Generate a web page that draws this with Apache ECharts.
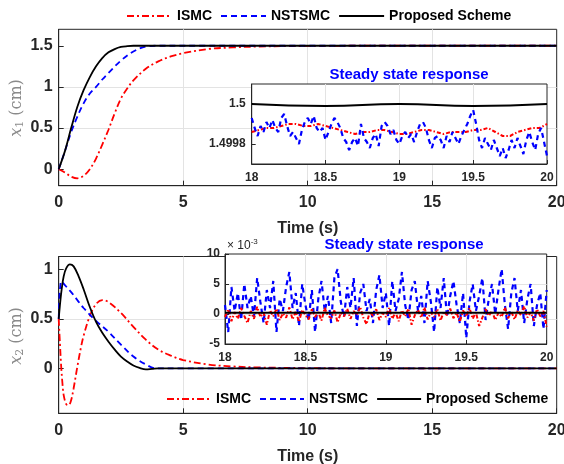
<!DOCTYPE html>
<html><head><meta charset="utf-8">
<script src="https://cdn.jsdelivr.net/npm/echarts@6/dist/echarts.min.js"></script>
<style>html,body{margin:0;padding:0;background:#fff}#c{width:564px;height:464px}</style>
</head><body><div id="c"></div><script>
// ---------- data: top plot x1 ----------
const tRed1 = [0,0.25,0.5,0.75,1,1.25,1.5,1.75,2,2.25,2.5,2.75,3,3.5,4,4.5,5,6,7,8,9,10,12,15,20];
const red1 = [0,-0.04,-0.09,-0.11,-0.08,0.0,0.13,0.3,0.48,0.68,0.86,0.98,1.08,1.22,1.31,1.37,1.41,1.46,1.48,1.49,1.495,1.498,1.5,1.5,1.5];
const tBlue1 = [0,0.25,0.5,0.75,1,1.25,1.5,1.75,2,2.5,3,3.5,4,5,20];
const blue1 = [0,0.22,0.45,0.64,0.8,0.92,1.0,1.09,1.17,1.32,1.43,1.49,1.5,1.5,1.5];
const tBlack1 = [0,0.25,0.5,0.75,1,1.25,1.5,1.75,2,2.25,2.5,2.75,3,3.5,20];
const black1 = [0,0.22,0.5,0.76,0.96,1.12,1.25,1.35,1.42,1.46,1.485,1.495,1.5,1.5,1.5];

// ---------- data: bottom plot x2 ----------
const tRed2 = [0,0.05,0.1,0.15,0.2,0.3,0.4,0.5,0.6,0.75,0.9,1,1.25,1.5,1.75,2,2.5,3,3.5,4,4.5,5,6,7,8,10,12,20];
const red2 = [0.5,0.25,0.02,-0.15,-0.27,-0.36,-0.37,-0.32,-0.2,0.02,0.22,0.33,0.53,0.65,0.69,0.67,0.56,0.42,0.29,0.19,0.13,0.085,0.04,0.02,0.01,0.003,0.001,0];
const tBlue2 = [0,0.03,0.07,0.1,0.25,0.5,0.75,1,1.5,2,2.5,3,3.5,3.9,4.2,20];
const blue2 = [0.5,0.72,0.85,0.88,0.84,0.77,0.69,0.61,0.48,0.37,0.24,0.12,0.04,0.0,0,0];
const tBlack2 = [0,0.1,0.2,0.3,0.45,0.6,0.8,1,1.25,1.5,1.75,2,2.25,2.5,2.75,3,3.25,3.5,3.75,4,20];
const black2 = [0.5,0.76,0.93,1.01,1.05,1.03,0.93,0.8,0.62,0.47,0.36,0.27,0.19,0.12,0.07,0.03,0.005,-0.01,-0.005,0,0];

// ---------- data: insets (steady state, t = 18..20) ----------
const insetTime = [18,18.02,18.04,18.06,18.08,18.1,18.12,18.14,18.16,18.18,
 18.2,18.22,18.24,18.26,18.28,18.3,18.32,18.34,18.36,18.38,
 18.4,18.42,18.44,18.46,18.48,18.5,18.52,18.54,18.56,18.58,
 18.6,18.62,18.64,18.66,18.68,18.7,18.72,18.74,18.76,18.78,
 18.8,18.82,18.84,18.86,18.88,18.9,18.92,18.94,18.96,18.98,
 19,19.02,19.04,19.06,19.08,19.1,19.12,19.14,19.16,19.18,
 19.2,19.22,19.24,19.26,19.28,19.3,19.32,19.34,19.36,19.38,
 19.4,19.42,19.44,19.46,19.48,19.5,19.52,19.54,19.56,19.58,
 19.6,19.62,19.64,19.66,19.68,19.7,19.72,19.74,19.76,19.78,
 19.8,19.82,19.84,19.86,19.88,19.9,19.92,19.94,19.96,19.98,20];
const blueTopInset = [1.49993,1.49988,1.49984,1.49989,1.49986,1.49991,1.49988,1.49992,1.49988,1.49986,
 1.49993,1.49995,1.49989,1.49984,1.49986,1.49983,1.49980,1.49987,1.49991,1.49993,
 1.49990,1.49994,1.49988,1.49986,1.49988,1.49982,1.49986,1.49990,1.49993,1.49991,
 1.49988,1.49983,1.49981,1.49977,1.49981,1.49983,1.49979,1.49990,1.49983,1.49981,
 1.49978,1.49983,1.49985,1.49979,1.49989,1.49991,1.49989,1.49985,1.49987,1.49982,
 1.49980,1.49984,1.49986,1.49983,1.49985,1.49981,1.49986,1.49990,1.49991,1.49988,
 1.49982,1.49978,1.49983,1.49984,1.49982,1.49978,1.49984,1.49981,1.49986,1.49983,
 1.49980,1.49984,1.49987,1.49990,1.49994,1.49997,1.49990,1.49982,1.49978,1.49983,
 1.49980,1.49977,1.49982,1.49978,1.49974,1.49978,1.49973,1.49977,1.49982,1.49978,
 1.49983,1.49979,1.49975,1.49982,1.49986,1.49981,1.49977,1.49985,1.49988,1.49981,1.49974];
const redTopTime = [18,18.05,18.1,18.15,18.2,18.25,18.3,18.35,18.4,18.45,
 18.5,18.55,18.6,18.65,18.7,18.75,18.8,18.85,18.9,18.95,
 19,19.05,19.1,19.15,19.2,19.25,19.3,19.35,19.4,19.45,
 19.5,19.55,19.6,19.65,19.7,19.75,19.8,19.85,19.9,19.95,20];
const redTopInset = [1.49986,1.49987,1.49988,1.49988,1.49989,1.49990,1.49990,1.49989,1.49989,1.49990,
 1.49989,1.49988,1.49987,1.49986,1.49985,1.49986,1.49986,1.49987,1.49987,1.49986,
 1.49985,1.49985,1.49986,1.49987,1.49987,1.49986,1.49985,1.49986,1.49986,1.49986,
 1.49987,1.49987,1.49988,1.49986,1.49984,1.49984,1.49986,1.49987,1.49988,1.49988,1.49990];
const blackTopTime = [18,18.5,19,19.5,20];
const blackTopInset = [1.5,1.49999,1.5,1.49999,1.5];

const blueBotInset = [1.5,-3.0,4.5,0.5,3.5,-1.0,5.0,1.0,3.0,-0.5,
 6.0,2.0,-1.5,4.0,1.0,5.5,-3.0,2.5,0.5,4.5,
 7.0,1.0,3.5,-2.0,5.0,1.5,-1.0,4.0,-3.0,2.5,
 5.5,0.5,3.0,-1.5,6.0,7.5,2.0,-0.5,4.5,1.0,
 6.0,-2.0,3.5,5.0,0.5,2.5,-1.5,4.0,6.5,1.0,
 3.5,-2.0,5.5,0.5,2.5,7.0,1.5,-1.0,4.0,5.5,
 0.5,3.0,-1.5,5.5,2.0,-3.0,4.5,1.0,6.0,-0.5,
 3.0,5.5,1.5,-1.5,3.5,-4.0,2.0,5.0,0.5,3.0,
 6.0,-1.0,2.5,5.0,0.0,4.0,7.5,1.5,-2.5,3.5,
 6.0,0.5,4.0,-1.5,2.5,5.0,-2.0,1.5,3.5,-2.5,4.0];
const redBotInset = [-0.5,0.8,-1.2,0.3,-0.8,1.0,-0.3,-1.5,0.5,-0.8,
 1.2,-0.5,0.2,-1.8,0.6,-0.4,0.9,-1.0,0.1,-0.6,
 1.1,-0.9,0.4,-1.3,0.7,-0.2,-0.9,0.8,-0.5,0.3,
 -1.1,1.0,-0.3,-0.7,0.6,-1.4,0.2,-0.4,0.9,-0.8,
 0.5,-0.2,1.2,-0.6,-1.7,0.4,-0.3,0.8,-1.0,0.2,
 -0.5,1.0,-0.8,0.3,-1.2,0.6,-0.4,0.9,-1.8,-0.2,
 0.7,-0.6,1.1,-0.9,0.3,-0.5,0.8,-1.1,0.4,-0.2,
 0.9,-0.7,0.2,-1.3,0.6,-0.4,1.0,-0.8,0.3,-2.0,
 -0.6,0.8,-0.3,0.5,-1.0,0.2,-0.5,1.1,-0.7,0.4,
 -0.9,0.6,-0.2,1.3,-0.6,0.3,-1.1,0.8,-0.4,0.5,-2.1];
const blackBotTime = [18,20];
const blackBotInset = [0.2,0.2];

// ---------- tick / label texts ----------
const names = ['ISMC','NSTSMC','Proposed Scheme'];
const insetTitle = 'Steady state response';
const xTitle = 'Time (s)';
const yTitleTop = '{i|x}{s|1}{n| (cm)}';
const yTitleBot = '{i|x}{s|2}{n| (cm)}';
const topInsetTicks = [1.4998, 1.5];
const topMainTicks = [0, 0.5, 1, 1.5];
const botMainTicks = [0, 0.5, 1];

// ---------- build ----------
const zip = (t, v) => t.map((x, i) => [x, v[i]]);
const FONT = 'Liberation Sans, Arial, Helvetica, sans-serif';
const SERIF = 'DejaVu Serif, serif';
const DARK = '#262626';
const GRIDC = '#e3e3e3';
const YNAME = '#8a8a8a';
const RED = '#ff0000', BLUE = '#0000ff', BLACK = '#000000';
const redDash = [7,3,2,3], blueDash = [6,4];

function mainX(gi) {
  return {gridIndex: gi, type: 'value', min: 0, max: 20, interval: 5, name: xTitle,
    nameLocation: 'middle', nameGap: 35,
    nameTextStyle: {fontFamily: FONT, fontWeight: 'bold', fontSize: 16, color: DARK},
    axisLine: {show: true, onZero: false, lineStyle: {color: DARK, width: 1}},
    axisTick: {show: true, inside: true, length: 5, lineStyle: {color: DARK}},
    axisLabel: {margin: 9, fontFamily: FONT, fontWeight: 'bold', fontSize: 16, color: DARK},
    splitLine: {show: true, showMinLine: false, showMaxLine: false, lineStyle: {color: GRIDC}}};
}
function mainY(gi, min, max, ticks) {
  return {gridIndex: gi, type: 'value', min: min, max: max,
    axisLabel: {customValues: ticks, margin: 6, fontFamily: FONT, fontWeight: 'bold', fontSize: 16, color: DARK},
    axisTick: {customValues: ticks, show: true, inside: true, length: 5, lineStyle: {color: DARK}},
    axisLine: {show: true, onZero: false, lineStyle: {color: DARK, width: 1}},
    splitLine: {show: true, showMinLine: false, showMaxLine: false, lineStyle: {color: GRIDC}}};
}
function insetX(gi) {
  return {gridIndex: gi, type: 'value', min: 18, max: 20, interval: 0.5, z: 11,
    axisLine: {show: true, onZero: false, lineStyle: {color: DARK, width: 1}},
    axisTick: {show: true, inside: true, length: 4, lineStyle: {color: DARK}},
    axisLabel: {margin: 8, fontFamily: FONT, fontWeight: 'bold', fontSize: 12, color: DARK},
    splitLine: {show: true, showMinLine: false, showMaxLine: false, lineStyle: {color: GRIDC}}};
}
const yRich = {
  i: {fontFamily: SERIF, fontStyle: 'italic', fontSize: 16, fill: YNAME},
  s: {fontFamily: SERIF, fontSize: 11, fill: YNAME, verticalAlign: 'bottom', padding: [6,0,0,0]},
  n: {fontFamily: SERIF, fontSize: 16, fill: YNAME}
};
const gridBase = {show: true, borderColor: DARK, borderWidth: 1, outerBoundsMode: 'none', containLabel: false};

const option = {
  animation: false,
  backgroundColor: '#ffffff',
  grid: [
    Object.assign({left: 58.7, top: 29.3, width: 498, height: 156.4, backgroundColor: 'transparent', z: 0}, gridBase),
    Object.assign({left: 251.7, top: 84, width: 295.3, height: 80, backgroundColor: '#ffffff', z: 10}, gridBase),
    Object.assign({left: 58.7, top: 256.5, width: 498, height: 156.8, backgroundColor: 'transparent', z: 0}, gridBase),
    Object.assign({left: 225, top: 254, width: 321.7, height: 90, backgroundColor: '#ffffff', z: 10}, gridBase)
  ],
  xAxis: [mainX(0), insetX(1), mainX(2), insetX(3)],
  yAxis: [
    mainY(0, -0.2, 1.7, topMainTicks),
    {gridIndex: 1, type: 'value', min: 1.4997, max: 1.5001, z: 11,
      axisLabel: {customValues: topInsetTicks, margin: 6, fontFamily: FONT, fontWeight: 'bold', fontSize: 12, color: DARK},
      axisTick: {customValues: topInsetTicks, show: true, inside: true, length: 4, lineStyle: {color: DARK}},
      axisLine: {show: true, onZero: false, lineStyle: {color: DARK}},
      splitLine: {show: true, showMinLine: false, showMaxLine: false, lineStyle: {color: GRIDC}}},
    mainY(2, -0.453, 1.13, botMainTicks),
    {gridIndex: 3, type: 'value', min: -5, max: 10, interval: 5, z: 11,
      axisLabel: {margin: 5, fontFamily: FONT, fontWeight: 'bold', fontSize: 12, color: DARK},
      axisTick: {show: true, inside: true, length: 4, lineStyle: {color: DARK}},
      axisLine: {show: true, onZero: false, lineStyle: {color: DARK}},
      splitLine: {show: true, showMinLine: false, showMaxLine: false, lineStyle: {color: GRIDC}}}
  ],
  legend: [
    {data: names, left: 126, top: 9, padding: 0, itemWidth: 45, itemHeight: 14, itemGap: 8, itemStyle: {opacity: 0},
      textStyle: {fontFamily: FONT, fontWeight: 'bold', fontSize: 14, color: '#000'}},
    {data: names, left: 166, top: 392, padding: 0, itemWidth: 44, itemHeight: 14, itemGap: 8, itemStyle: {opacity: 0},
      textStyle: {fontFamily: FONT, fontWeight: 'bold', fontSize: 14, color: '#000'}}
  ],
  graphic: [
    {type: 'text', z: 20, x: 17, y: 108, rotation: Math.PI / 2,
      style: {text: yTitleTop, align: 'center', verticalAlign: 'middle', rich: yRich}},
    {type: 'text', z: 20, x: 17, y: 336, rotation: Math.PI / 2,
      style: {text: yTitleBot, align: 'center', verticalAlign: 'middle', rich: yRich}},
    {type: 'text', z: 20, style: {x: 409, y: 75, text: insetTitle, align: 'center', verticalAlign: 'middle',
      font: 'bold 15px ' + FONT, fill: BLUE}},
    {type: 'text', z: 20, style: {x: 404, y: 245, text: insetTitle, align: 'center', verticalAlign: 'middle',
      font: 'bold 15px ' + FONT, fill: BLUE}},
    {type: 'text', z: 20, style: {x: 227, y: 246, text: '{a|×}{b| 10}{c|-3}', verticalAlign: 'middle',
      rich: {a: {fontSize: 12, fontFamily: FONT, fill: DARK}, b: {fontSize: 12, fontFamily: FONT, fill: DARK},
             c: {fontSize: 8, fontFamily: FONT, fill: DARK, verticalAlign: 'top', padding: [0,0,8,0]}}}}
  ],
  series: [
    {name: 'ISMC', type: 'line', xAxisIndex: 0, yAxisIndex: 0, data: zip(tRed1, red1), symbol: 'none', smooth: 0.35, z: 2,
      lineStyle: {color: RED, width: 1.8, type: redDash}, itemStyle: {color: RED}},
    {name: 'NSTSMC', type: 'line', xAxisIndex: 0, yAxisIndex: 0, data: zip(tBlue1, blue1), symbol: 'none', smooth: 0.35, z: 3,
      lineStyle: {color: BLUE, width: 1.8, type: blueDash}, itemStyle: {color: BLUE}},
    {name: 'Proposed Scheme', type: 'line', xAxisIndex: 0, yAxisIndex: 0, data: zip(tBlack1, black1), symbol: 'none', smooth: 0.35, z: 4,
      lineStyle: {color: BLACK, width: 1.8, type: 'solid'}, itemStyle: {color: BLACK}},
    {name: 'ISMC', type: 'line', xAxisIndex: 2, yAxisIndex: 2, data: zip(tRed2, red2), symbol: 'none', smooth: 0.35, z: 2,
      lineStyle: {color: RED, width: 1.8, type: redDash}, itemStyle: {color: RED}},
    {name: 'NSTSMC', type: 'line', xAxisIndex: 2, yAxisIndex: 2, data: zip(tBlue2, blue2), symbol: 'none', smooth: 0.35, z: 3,
      lineStyle: {color: BLUE, width: 1.8, type: blueDash}, itemStyle: {color: BLUE}},
    {name: 'Proposed Scheme', type: 'line', xAxisIndex: 2, yAxisIndex: 2, data: zip(tBlack2, black2), symbol: 'none', smooth: 0.35, z: 4,
      lineStyle: {color: BLACK, width: 1.8, type: 'solid'}, itemStyle: {color: BLACK}},
    // insets
    {name: 'ISMC-inset1', type: 'line', xAxisIndex: 1, yAxisIndex: 1, data: zip(redTopTime, redTopInset), symbol: 'none', z: 12,
      lineStyle: {color: RED, width: 2, type: [4,2,1.5,2]}},
    {name: 'NSTSMC-inset1', type: 'line', xAxisIndex: 1, yAxisIndex: 1, data: zip(insetTime, blueTopInset), symbol: 'none', z: 13,
      lineStyle: {color: BLUE, width: 2.2, type: [5,4]}},
    {name: 'PS-inset1', type: 'line', xAxisIndex: 1, yAxisIndex: 1, data: zip(blackTopTime, blackTopInset), symbol: 'none', smooth: true, z: 14,
      lineStyle: {color: BLACK, width: 2}},
    {name: 'ISMC-inset2', type: 'line', xAxisIndex: 3, yAxisIndex: 3, data: zip(insetTime, redBotInset), symbol: 'none', z: 13,
      lineStyle: {color: RED, width: 2, type: [4,2,1.5,2]}},
    {name: 'NSTSMC-inset2', type: 'line', xAxisIndex: 3, yAxisIndex: 3, data: zip(insetTime, blueBotInset), symbol: 'none', z: 12,
      lineStyle: {color: BLUE, width: 2.2, type: [5,4]}},
    {name: 'PS-inset2', type: 'line', xAxisIndex: 3, yAxisIndex: 3, data: zip(blackBotTime, blackBotInset), symbol: 'none', z: 14,
      lineStyle: {color: BLACK, width: 2}}
  ]
};
const chart = echarts.init(document.getElementById('c'), null, {renderer: 'canvas'});
chart.setOption(option);
</script></body></html>
